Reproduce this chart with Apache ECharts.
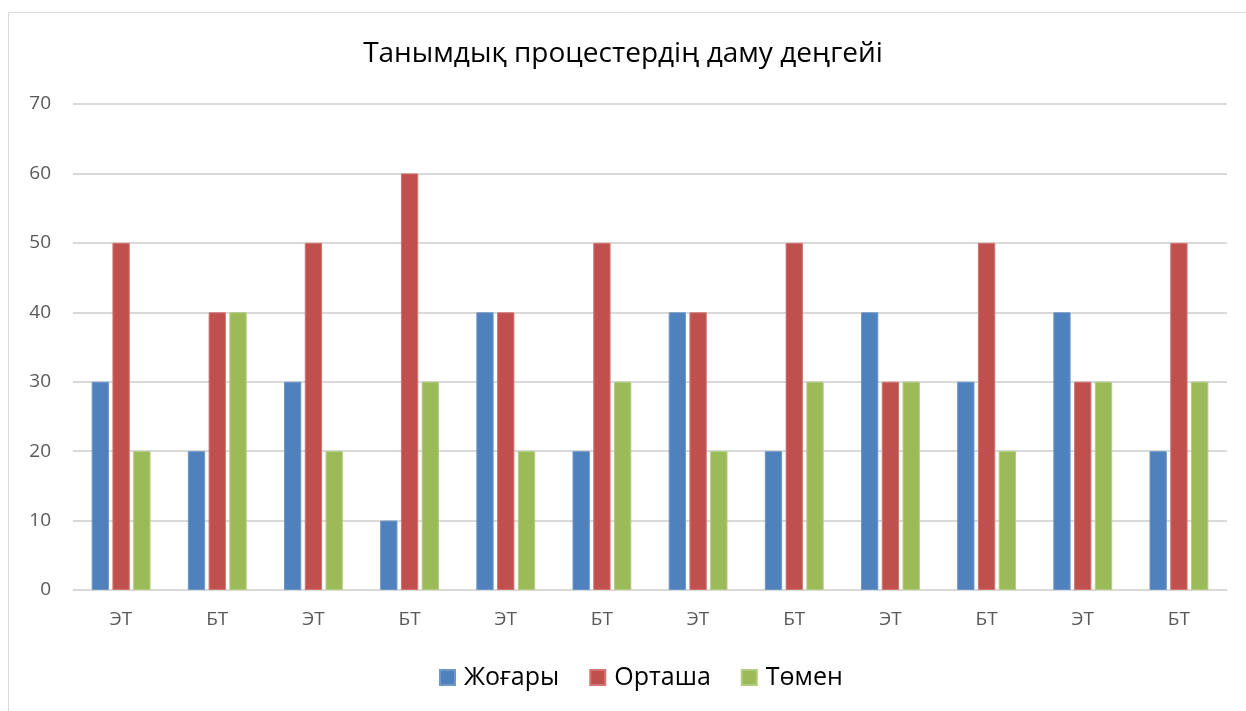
<!DOCTYPE html>
<html>
<head>
<meta charset="utf-8">
<script src="https://cdn.jsdelivr.net/npm/echarts@6/dist/echarts.min.js"></script>
<style>
  html, body { margin: 0; padding: 0; background: #fff; }
  #main { width: 1246px; height: 711px; }
</style>
</head>
<body>
<div id="main"></div>
<script>
var categories = ["ЭТ", "БТ", "ЭТ", "БТ", "ЭТ", "БТ", "ЭТ", "БТ", "ЭТ", "БТ", "ЭТ", "БТ"];
var zhogary = [30, 20, 30, 10, 40, 20, 40, 20, 40, 30, 40, 20];
var ortasha = [50, 40, 50, 60, 40, 50, 40, 50, 30, 50, 30, 50];
var tomen = [20, 40, 20, 30, 20, 30, 20, 30, 30, 20, 30, 30];

var font = "'Open Sans', 'Noto Sans', sans-serif";
var myChart = echarts.init(document.getElementById("main"));

function bar(name, data, color, border) {
  return {
    name: name,
    type: "bar",
    data: data,
    barWidth: "18%",
    barGap: "20%",
    itemStyle: { color: color, borderColor: border, borderWidth: 1 }
  };
}

myChart.setOption({
  animation: false,
  title: {
    text: "Танымдық процестердің даму деңгейі",
    left: "center",
    top: 35,
    textStyle: { fontFamily: font, fontSize: 28, fontWeight: "normal", color: "#000" }
  },
  graphic: [
    {
      type: "rect",
      shape: { x: 8.5, y: 12.5, width: 1240, height: 720 },
      style: { fill: "none", stroke: "#d9d9d9", lineWidth: 1 },
      z: -1
    }
  ],
  legend: {
    bottom: 16,
    left: 434,
    itemWidth: 15,
    itemHeight: 15,
    itemGap: 30,
    icon: "rect",
    textStyle: { fontFamily: font, fontSize: 25, color: "#000", padding: [0, 0, 0, 4] },
    data: ["Жоғары", "Орташа", "Төмен"]
  },
  grid: { left: 73, right: 19, top: 104, bottom: 121 },
  xAxis: {
    type: "category",
    data: categories,
    axisLine: { lineStyle: { color: "#d9d9d9", width: 1 } },
    axisTick: { show: false },
    axisLabel: { fontFamily: font, fontSize: 19, color: "#595959", margin: 20 }
  },
  yAxis: {
    type: "value",
    min: 0,
    max: 70,
    interval: 10,
    axisLine: { show: false },
    axisTick: { show: false },
    splitLine: { lineStyle: { color: "#d9d9d9", width: 2 } },
    axisLabel: { fontFamily: font, fontSize: 19, color: "#595959", margin: 22 }
  },
  series: [
    bar("Жоғары", zhogary, "#4f81bd", "#6f98c9"),
    bar("Орташа", ortasha, "#c0504d", "#d27573"),
    bar("Төмен", tomen, "#9bbb59", "#b2cc7d")
  ]
});
</script>
</body>
</html>
